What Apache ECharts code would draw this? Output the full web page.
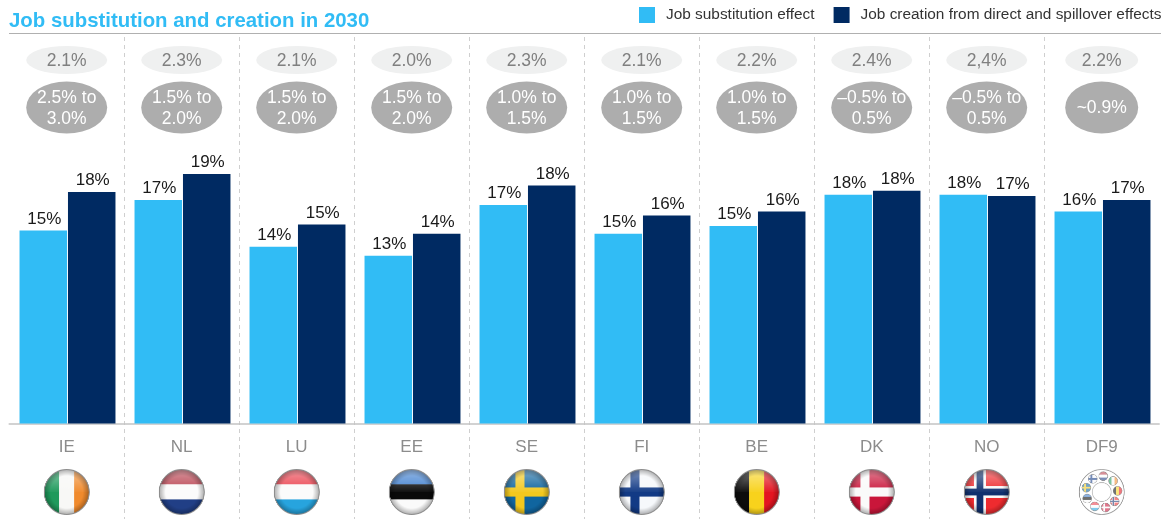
<!DOCTYPE html>
<html><head><meta charset="utf-8">
<style>html,body{margin:0;padding:0;background:#fff}#c{width:1173px;height:519px}</style>
<script src="https://cdn.jsdelivr.net/npm/echarts@6/dist/echarts.min.js"></script>
</head><body><div id="c"></div>
<script>
const categories = ['IE','NL','LU','EE','SE','FI','BE','DK','NO','DF9'];
const substitution = [14.85,17.2,13.6,12.9,16.8,14.6,15.2,17.6,17.6,16.3];
const creation = [17.8,19.2,15.3,14.6,18.3,16,16.3,17.9,17.5,17.2];
const substitutionLabels = ['15%','17%','14%','13%','17%','15%','15%','18%','18%','16%'];
const creationLabels = ['18%','19%','15%','14%','18%','16%','16%','18%','17%','17%'];
const topPills = ['2.1%','2.3%','2.1%','2.0%','2.3%','2.1%','2.2%','2.4%','2,4%','2.2%'];
const rangePills = ['2.5% to\n3.0%','1.5% to\n2.0%','1.5% to\n2.0%','1.5% to\n2.0%','1.0% to\n1.5%','1.0% to\n1.5%','1.0% to\n1.5%','\u20130.5% to\n0.5%','\u20130.5% to\n0.5%','~0.9%'];

const FONT = '"Liberation Sans", Arial, sans-serif';
const PX = 13;            // pixels per percentage point
const ZERO = 423.5, TOP = 37, BOTTOM = 519;
const yAt = p => (ZERO - p) / PX;

function stripes(c, x, y, r, dir, cols){
  const n = cols.length, s = 2*r/n;
  cols.forEach((col,i)=>{ c.fillStyle = col;
    if(dir==='v') c.fillRect(x-r+i*s-0.2, y-r, s+0.4, 2*r);
    else c.fillRect(x-r, y-r+i*s-0.2, 2*r, s+0.4); });
}
function cross(c, x, y, r, bg, fg, edge){
  c.fillStyle = bg; c.fillRect(x-r,y-r,2*r,2*r);
  const cx = x-r*0.3;
  if(edge){ c.fillStyle = edge; c.fillRect(cx-r*0.27,y-r,r*0.54,2*r); c.fillRect(x-r,y-r*0.27,2*r,r*0.54); }
  c.fillStyle = fg; const w = edge ? r*0.15 : r*0.2;
  c.fillRect(cx-w,y-r,2*w,2*r); c.fillRect(x-r,y-w,2*r,2*w);
}
function paint(c, code, x, y, r){
  if(code==='IE') stripes(c,x,y,r,'v',['#1f9a5c','#f8f8f6','#f08a2c']);
  if(code==='NL') stripes(c,x,y,r,'h',['#b8414f','#fbfbfb','#213f86']);
  if(code==='LU') stripes(c,x,y,r,'h',['#ea3f4c','#fbfbfb','#27a4de']);
  if(code==='EE') stripes(c,x,y,r,'h',['#3f7fcf','#0a0a0a','#fafafa']);
  if(code==='BE') stripes(c,x,y,r,'v',['#0c0c0c','#f8d21c','#e31521']);
  if(code==='SE') cross(c,x,y,r,'#10659f','#f3c81e');
  if(code==='FI') cross(c,x,y,r,'#f6f8fb','#123a85');
  if(code==='DK') cross(c,x,y,r,'#c9163a','#fafafa');
  if(code==='NO') cross(c,x,y,r,'#ee2b2f','#10306e','#fafafa');
}
function flagImage(code){
  const S = 92, cv = document.createElement('canvas'); cv.width = cv.height = S;
  const c = cv.getContext('2d'), m = S/2, R = S/2-2;
  if(code==='DF9'){
    c.beginPath(); c.arc(m,m,R,0,7); c.fillStyle='#fff'; c.fill(); c.lineWidth=1.6; c.strokeStyle='#9a9a9a'; c.stroke();
    c.beginPath(); c.arc(m,m,R*0.42,0,7); c.lineWidth=1.4; c.strokeStyle='#b5b5b5'; c.stroke();
    const ring = ['NL','IE','BE','NO','DK','LU','EE','SE','FI'];
    ring.forEach((k,i)=>{
      const a = -Math.PI/2 + 0.1 + i*2*Math.PI/9, x = m+Math.cos(a)*R*0.71, y = m+Math.sin(a)*R*0.71, r = R*0.2;
      c.save(); c.beginPath(); c.arc(x,y,r,0,7); c.clip(); paint(c,k,x,y,r);
      c.fillStyle='rgba(255,255,255,0.42)'; c.fillRect(x-r,y-r,2*r,2*r); c.restore();
      c.beginPath(); c.arc(x,y,r,0,7); c.lineWidth=1; c.strokeStyle='#8f8f8f'; c.stroke();
    });
  } else {
    c.save(); c.beginPath(); c.arc(m,m,R,0,7); c.clip(); paint(c,code,m,m,R);
    let g = c.createLinearGradient(0,m-R,0,m);
    g.addColorStop(0,'rgba(255,255,255,0.45)'); g.addColorStop(1,'rgba(255,255,255,0.03)');
    c.fillStyle=g; c.fillRect(0,0,S,m);
    g = c.createRadialGradient(m,m,R*0.72,m,m,R);
    g.addColorStop(0,'rgba(0,0,0,0)'); g.addColorStop(1,'rgba(0,0,0,0.3)');
    c.fillStyle=g; c.fillRect(0,0,S,S); c.restore();
    c.beginPath(); c.arc(m,m,R,0,7); c.lineWidth=2; c.strokeStyle='#8e8e8e'; c.stroke();
  }
  return 'image://'+cv.toDataURL('image/png');
}

const barLabel = arr => ({show:true,position:'top',distance:3,offset:[1,0],color:'#1a1a1a',fontSize:17,fontFamily:FONT,
  formatter:p=>arr[p.dataIndex]});
const yRange = {type:'value',show:false,min:yAt(BOTTOM),max:yAt(TOP),splitLine:{show:false}};

const chart = echarts.init(document.getElementById('c'),null,{renderer:'canvas'});
chart.setOption({
  animation:false,
  backgroundColor:'#fff',
  title:{text:'Job substitution and creation in 2030',left:9,top:11,padding:0,
    textStyle:{color:'#31bcf5',fontSize:20.4,fontWeight:'bold',fontFamily:FONT}},
  legend:{data:['Job substitution effect','Job creation from direct and spillover effects'],
    left:639,top:7,padding:0,itemWidth:16,itemHeight:16,itemGap:19,icon:'rect',
    textStyle:{color:'#333',fontSize:15.4,fontFamily:FONT,padding:[1,0,0,6]}},
  grid:[
    {left:10,width:1150,top:TOP,bottom:519-BOTTOM,outerBoundsMode:'none'},
    {left:9.2,width:1150,top:TOP,bottom:519-BOTTOM,outerBoundsMode:'none'}
  ],
  xAxis:[
    {type:'category',gridIndex:0,data:categories,axisLine:{show:false},axisTick:{show:false},axisLabel:{show:false},splitLine:{show:false}},
    {type:'category',gridIndex:1,data:categories,boundaryGap:true,
      axisLine:{show:true,onZero:true,lineStyle:{color:'#c4c4c4',width:1.5}},
      axisTick:{show:false},
      axisLabel:{color:'#8c8c8c',fontSize:17,fontFamily:FONT,margin:-80.5},
      splitLine:{show:true,showMinLine:false,showMaxLine:false,lineStyle:{color:'#cfcfcf',type:[4,4],width:1}}}
  ],
  yAxis:[Object.assign({gridIndex:0},yRange),Object.assign({gridIndex:1},yRange)],
  graphic:[{type:'line',shape:{x1:9,y1:33.5,x2:1161,y2:33.5},style:{stroke:'#b0b0b0',lineWidth:1}}],
  series:[
    {name:'Job substitution effect',type:'bar',data:substitution,barWidth:47.5,barGap:'2%',
      itemStyle:{color:'#31bcf5'},label:barLabel(substitutionLabels)},
    {name:'Job creation from direct and spillover effects',type:'bar',data:creation,barWidth:47.5,
      itemStyle:{color:'#002a62'},label:barLabel(creationLabels)},
    {type:'scatter',xAxisIndex:1,yAxisIndex:1,silent:true,symbol:'circle',
      data:categories.map((k,i)=>({value:[k,yAt(60)],symbolSize:[k==='DF9'?73:81,28]})),
      itemStyle:{color:'#eff0f0',opacity:1},
      label:{show:true,position:'inside',offset:[0,1],color:'#808080',fontSize:17.5,fontFamily:FONT,formatter:p=>topPills[p.dataIndex]}},
    {type:'scatter',xAxisIndex:1,yAxisIndex:1,silent:true,symbol:'circle',
      data:categories.map((k,i)=>({value:[k,yAt(107.5)],symbolSize:[k==='DF9'?73:81,52]})),
      itemStyle:{color:'#adadad',opacity:1},
      label:{show:true,position:'inside',offset:[0,1],color:'#fff',fontSize:17.5,lineHeight:21.5,fontFamily:FONT,formatter:p=>rangePills[p.dataIndex]}},
    {type:'scatter',xAxisIndex:1,yAxisIndex:1,silent:true,
      data:categories.map(k=>({value:[k,yAt(492)],symbol:flagImage(k),symbolSize:47})),
      itemStyle:{opacity:1},label:{show:false}}
  ]
});
</script></body></html>
